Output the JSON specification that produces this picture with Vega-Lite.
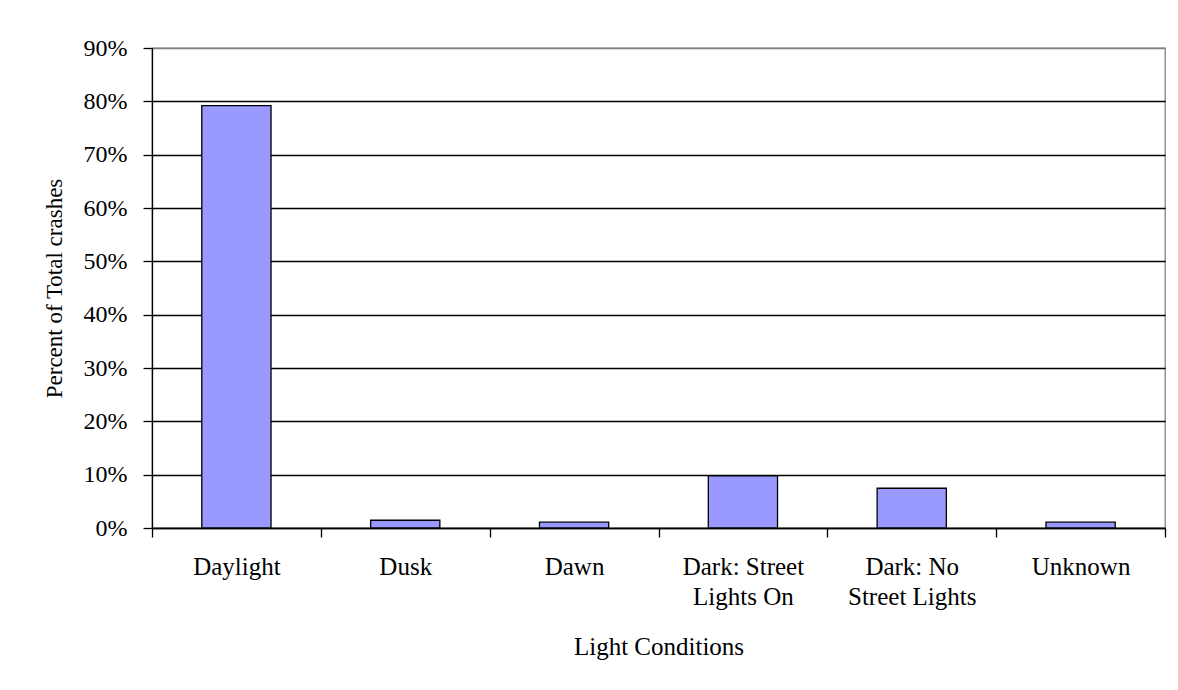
{
  "$schema": "https://vega.github.io/schema/vega-lite/v6.json",
  "width": 1013,
  "height": 480,
  "autosize": "none",
  "padding": {"left": 152, "top": 48, "right": 13, "bottom": 162},
  "background": "white",
  "data": {
    "values": [
      {"condition": "Daylight", "share": 0.792},
      {"condition": "Dusk", "share": 0.0145},
      {"condition": "Dawn", "share": 0.011},
      {"condition": "Dark: Street Lights On", "share": 0.098},
      {"condition": "Dark: No Street Lights", "share": 0.0745},
      {"condition": "Unknown", "share": 0.011}
    ]
  },
  "mark": {
    "type": "bar",
    "fill": "#9999FF",
    "stroke": "black",
    "strokeWidth": 1.3,
    "width": {"band": 0.41}
  },
  "encoding": {
    "x": {
      "field": "condition",
      "type": "nominal",
      "sort": null,
      "scale": {"paddingInner": 0, "paddingOuter": 0},
      "axis": {
        "title": "Light Conditions",
        "labelAngle": 0,
        "tickBand": "extent",
        "labelExpr": "datum.label == 'Dark: Street Lights On' ? ['Dark: Street', 'Lights On'] : datum.label == 'Dark: No Street Lights' ? ['Dark: No', 'Street Lights'] : datum.label",
        "labelFontSize": 25,
        "labelLineHeight": 30,
        "labelPadding": 17,
        "titleFontSize": 25,
        "titlePadding": 25
      }
    },
    "y": {
      "field": "share",
      "type": "quantitative",
      "scale": {"domain": [0, 0.9], "nice": false},
      "axis": {
        "title": "Percent of Total crashes",
        "format": ".0%",
        "values": [0, 0.1, 0.2, 0.3, 0.4, 0.5, 0.6, 0.7, 0.8, 0.9],
        "grid": true,
        "gridColor": {"condition": {"test": "datum.value >= 0.9", "value": "#808080"}, "value": "black"},
        "labelFontSize": 24,
        "labelPadding": 16,
        "titleFontSize": 23,
        "titlePadding": 17
      }
    }
  },
  "config": {
    "font": "Liberation Serif",
    "view": {"stroke": "#808080", "strokeWidth": 1.3},
    "axis": {
      "labelFont": "Liberation Serif",
      "titleFont": "Liberation Serif",
      "titleFontWeight": "normal",
      "labelColor": "black",
      "titleColor": "black",
      "domainColor": "black",
      "domainWidth": 1.3,
      "tickColor": "black",
      "tickWidth": 1.3,
      "tickSize": 9,
      "gridWidth": 1.3,
      "gridOpacity": 1,
      "labelOverlap": false,
      "labelBound": false
    }
  }
}
